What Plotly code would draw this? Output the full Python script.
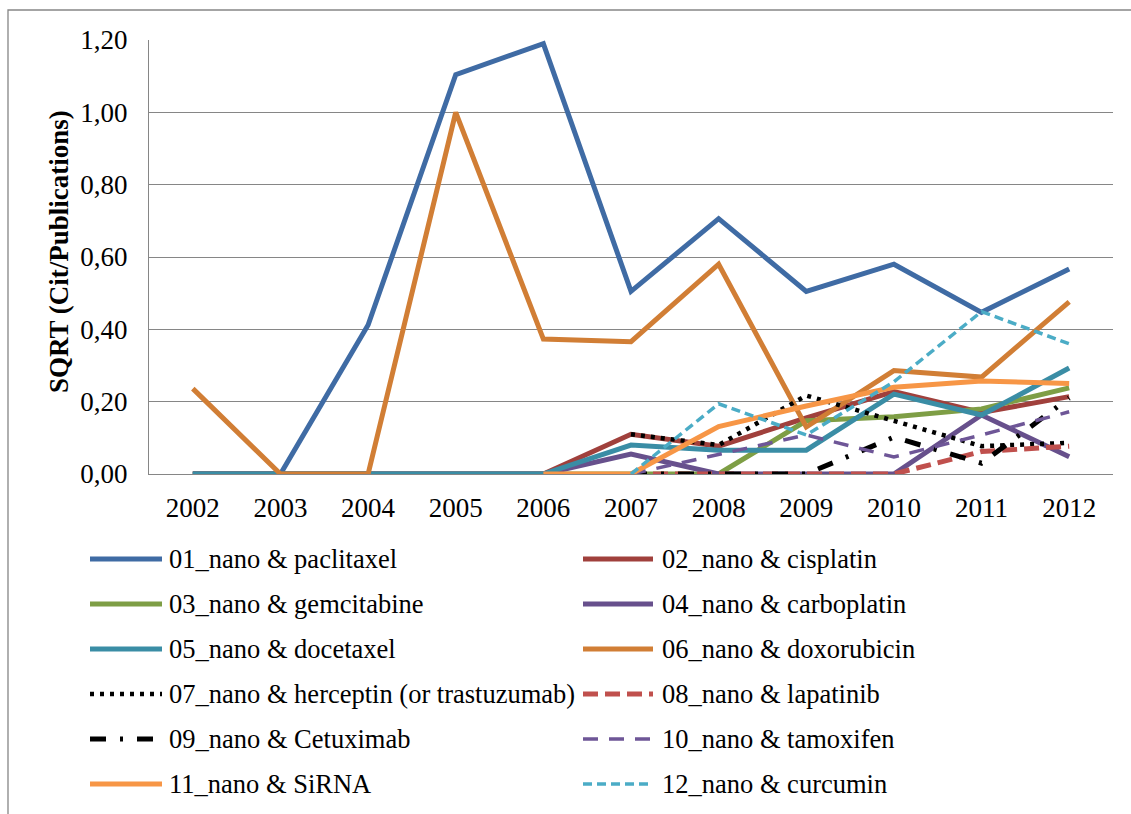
import plotly.graph_objects as go

# Years on the category axis
years = ["2002", "2003", "2004", "2005", "2006", "2007", "2008", "2009", "2010", "2011", "2012"]

# SQRT(citations / publications) per query, one list per series (None = no data)
paclitaxel  = [0, 0, 0.412, 1.104, 1.190, 0.505, 0.706, 0.505, 0.580, 0.447, 0.567]
cisplatin   = [0, 0, 0, 0, 0, 0.110, 0.077, 0.155, 0.228, 0.170, 0.214]
gemcitabine = [0, 0, 0, 0, 0, 0, 0, 0.147, 0.158, 0.180, 0.238]
carboplatin = [0, 0, 0, 0, 0, 0.055, 0, 0, 0, 0.163, 0.048]
docetaxel   = [0, 0, 0, 0, 0, 0.080, 0.066, 0.066, 0.221, 0.163, 0.293]
doxorubicin = [0.236, 0, 0, 1.000, 0.373, 0.366, 0.580, 0.130, 0.286, 0.268, 0.476]
herceptin   = [None, None, None, None, None, 0.110, 0.080, 0.217, 0.147, 0.077, 0.086]
lapatinib   = [None, None, None, None, None, 0, 0, 0, 0, 0.062, 0.077]
cetuximab   = [None, None, None, None, None, 0, 0, 0, 0.102, 0.030, 0.210]
tamoxifen   = [None, None, None, None, None, 0, 0.054, 0.108, 0.047, 0.108, 0.172]
sirna       = [None, None, None, None, 0, 0, 0.131, 0.188, 0.240, 0.257, 0.250]
curcumin    = [None, None, None, None, None, 0, 0.194, 0.108, 0.255, 0.449, 0.360]

names = [
    "01_nano & paclitaxel", "02_nano & cisplatin", "03_nano & gemcitabine",
    "04_nano & carboplatin", "05_nano & docetaxel", "06_nano & doxorubicin",
    "07_nano & herceptin (or trastuzumab)", "08_nano & lapatinib",
    "09_nano & Cetuximab", "10_nano & tamoxifen", "11_nano & SiRNA",
    "12_nano & curcumin",
]
series = [paclitaxel, cisplatin, gemcitabine, carboplatin, docetaxel, doxorubicin,
          herceptin, lapatinib, cetuximab, tamoxifen, sirna, curcumin]

# (colour, width, dash) for each series
styles = [
    ("#3F6BA4", 5, "solid"),
    ("#A0403C", 5, "solid"),
    ("#7E9E45", 5, "solid"),
    ("#67508C", 5, "solid"),
    ("#3A8DA5", 5, "solid"),
    ("#D17E35", 5, "solid"),
    ("#000000", 4.5, "4px,6px"),
    ("#C0504D", 5, "15px,7px"),
    ("#000000", 5, "16px,14px,3px,14px"),
    ("#6E5697", 3.5, "15px,11px"),
    ("#F79646", 5, "solid"),
    ("#4BACC6", 3.5, "9px,5px"),
]

W, H = 1131, 814
L, R, T, B = 149, 18, 40, 340
PW, PH = W - L - R, H - T - B
FONT = "Liberation Serif"
GRID = "#868686"


def px(x):
    return (x - L) / PW


def py(y):
    return (H - B - y) / PH


fig = go.Figure()
for name, vals, (col, lw, dash) in zip(names, series, styles):
    fig.add_trace(go.Scatter(
        x=years, y=vals, name=name, mode="lines",
        line=dict(color=col, width=lw, dash=dash),
        connectgaps=False, showlegend=False,
    ))

shapes = []
annotations = []

# Two-column legend below the plot
row_y = [559, 604, 649, 694, 739, 784]
col_line = [(90, 162), (583, 653)]
col_text = [167, 660]
for i, (name, (col, lw, dash)) in enumerate(zip(names, styles)):
    r, c = divmod(i, 2)
    x0, x1 = col_line[c]
    yy = py(row_y[r])
    shapes.append(dict(
        type="line", xref="paper", yref="paper",
        x0=px(x0), x1=px(x1), y0=yy, y1=yy,
        line=dict(color=col, width=lw, dash=dash),
    ))
    annotations.append(dict(
        xref="paper", yref="paper", x=px(col_text[c]), y=yy,
        xanchor="left", yanchor="middle", showarrow=False,
        text=name, font=dict(family=FONT, size=26.5, color="black"),
    ))

# Y-axis title
annotations.append(dict(
    xref="paper", yref="paper", x=px(59), y=py(252),
    xanchor="center", yanchor="middle", showarrow=False, textangle=-90,
    text="<b>SQRT (Cit/Publications)</b>",
    font=dict(family=FONT, size=27, color="black"),
))

# Chart-area frame
shapes.append(dict(
    type="rect", xref="paper", yref="paper",
    x0=px(8), x1=px(1145), y0=py(830), y1=py(10),
    line=dict(color=GRID, width=1.3), layer="below",
))

fig.update_layout(
    width=W, height=H,
    margin=dict(l=L, r=R, t=T, b=B, pad=0),
    paper_bgcolor="white", plot_bgcolor="white",
    separators=",.",
    font=dict(family=FONT, size=27, color="black"),
    shapes=shapes, annotations=annotations,
    showlegend=False,
)
fig.update_xaxes(
    type="category", range=[-0.5, 10.5],
    showgrid=False, showline=True, linecolor=GRID, linewidth=1.3,
    ticks="", ticklabelstandoff=9,
    tickfont=dict(family=FONT, size=27, color="black"),
)
fig.update_yaxes(
    range=[0, 1.2], dtick=0.2, tickformat=".2f",
    showgrid=True, gridcolor=GRID, gridwidth=1.3,
    zeroline=True, zerolinecolor=GRID, zerolinewidth=1.3,
    showline=True, linecolor=GRID, linewidth=1.3,
    ticks="", ticklabelstandoff=15,
    tickfont=dict(family=FONT, size=27, color="black"),
)

fig.write_html("out.html")
